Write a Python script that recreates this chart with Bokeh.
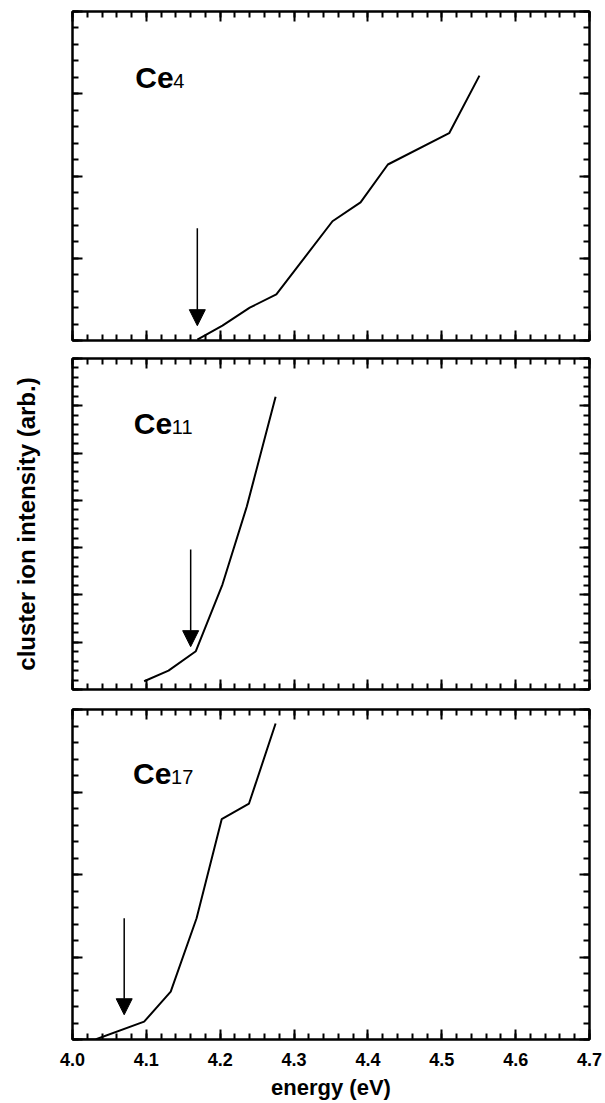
from bokeh.plotting import figure
from bokeh.models import (LinearAxis, SingleIntervalTicker, Range1d, Arrow, NormalHead, Label,
                          NumeralTickFormatter)
from bokeh.layouts import column
from bokeh.embed import file_html
from bokeh.resources import INLINE

# ---- data ----
energy_ce4 = [4.169, 4.203, 4.240, 4.276, 4.352, 4.390, 4.427, 4.510, 4.551]
intensity_ce4 = [0.01, 0.18, 0.40, 0.56, 1.45, 1.68, 2.14, 2.52, 3.22]

energy_ce11 = [4.097, 4.130, 4.167, 4.203, 4.236, 4.275]
intensity_ce11 = [0.175, 0.40, 0.81, 2.22, 3.87, 6.19]

energy_ce17 = [4.000, 4.031, 4.097, 4.133, 4.168, 4.202, 4.239, 4.275]
intensity_ce17 = [0.0, 0.0, 0.216, 0.58, 1.47, 2.67, 2.86, 3.83]

cluster_sizes = ["4", "11", "17"]
y_max = [4, 7, 4]

arrow_energy = [4.169, 4.160, 4.070]
arrow_tail = [1.365, 2.96, 1.47]
arrow_tip = [0.18, 0.906, 0.30]

label_energy = [4.085, 4.083, 4.082]
label_y = [3.20, 5.63, 3.23]

x_tick_step = 0.1
y_tick_step = 1

FONT = "Liberation Sans"


def style_axis(ax, show_labels=False):
    ax.major_tick_in = 10
    ax.major_tick_out = 0
    ax.minor_tick_in = 6
    ax.minor_tick_out = 0
    ax.major_tick_line_width = 2
    ax.minor_tick_line_width = 2
    ax.major_tick_line_color = "black"
    ax.minor_tick_line_color = "black"
    ax.axis_line_width = 2
    ax.axis_line_color = "black"
    if show_labels:
        ax.major_label_text_font = FONT
        ax.major_label_text_font_size = "18px"
        ax.major_label_text_font_style = "bold"
        ax.major_label_text_color = "black"
        ax.major_label_standoff = 13
    else:
        ax.major_label_text_font_size = "0px"
        ax.major_label_text_color = None
        ax.major_label_standoff = 0


def make_panel(xs, ys, idx, frame_h, top, bottom, bottom_labels=False, ylabel=None):
    ymax = y_max[idx]
    p = figure(frame_width=517, frame_height=frame_h,
               min_border_left=72, min_border_right=16,
               min_border_top=top, min_border_bottom=bottom,
               x_range=Range1d(4.0, 4.7), y_range=Range1d(0, ymax),
               x_axis_location=None, y_axis_location=None,
               output_backend="svg", toolbar_location=None,
               background_fill_color=None, border_fill_color="white")
    p.xgrid.visible = False
    p.ygrid.visible = False
    p.outline_line_color = "black"
    p.outline_line_width = 2

    bottom_ax = LinearAxis(ticker=SingleIntervalTicker(interval=x_tick_step, num_minor_ticks=5))
    top_ax = LinearAxis(ticker=SingleIntervalTicker(interval=x_tick_step, num_minor_ticks=5))
    left_ax = LinearAxis(ticker=SingleIntervalTicker(interval=y_tick_step, num_minor_ticks=5))
    right_ax = LinearAxis(ticker=SingleIntervalTicker(interval=y_tick_step, num_minor_ticks=5))
    style_axis(bottom_ax, show_labels=bottom_labels)
    style_axis(top_ax)
    style_axis(left_ax)
    style_axis(right_ax)

    if bottom_labels:
        bottom_ax.formatter = NumeralTickFormatter(format="0.0")
        bottom_ax.axis_label = "energy (eV)"
        bottom_ax.axis_label_text_font = FONT
        bottom_ax.axis_label_text_font_size = "22px"
        bottom_ax.axis_label_text_font_style = "bold"
        bottom_ax.axis_label_text_color = "black"
        bottom_ax.axis_label_standoff = 6
    if ylabel:
        left_ax.axis_label = ylabel
        left_ax.axis_label_text_font = FONT
        left_ax.axis_label_text_font_size = "24px"
        left_ax.axis_label_text_font_style = "bold"
        left_ax.axis_label_text_color = "black"
        left_ax.axis_label_standoff = 33

    p.add_layout(bottom_ax, "below")
    p.add_layout(top_ax, "above")
    p.add_layout(left_ax, "left")
    p.add_layout(right_ax, "right")

    p.line(xs, ys, line_color="black", line_width=2)

    p.add_layout(Arrow(end=NormalHead(size=16, fill_color="black", line_color="black", line_width=1),
                       x_start=arrow_energy[idx], y_start=arrow_tail[idx],
                       x_end=arrow_energy[idx], y_end=arrow_tip[idx],
                       line_color="black", line_width=1.5))

    p.add_layout(Label(x=label_energy[idx], y=label_y[idx], text="Ce",
                       text_font=FONT, text_font_size="30px", text_font_style="bold",
                       text_color="black", text_baseline="alphabetic"))
    p.add_layout(Label(x=label_energy[idx], y=label_y[idx], x_offset=38, y_offset=-4,
                       text=cluster_sizes[idx],
                       text_font=FONT, text_font_size="20px",
                       text_color="black", text_baseline="alphabetic"))
    return p


p1 = make_panel(energy_ce4, intensity_ce4, 0, 329, 11, 9)
p2 = make_panel(energy_ce11, intensity_ce11, 1, 331, 9, 10,
                ylabel="cluster ion intensity (arb.)")
p3 = make_panel(energy_ce17, intensity_ce17, 2, 330, 10, 64, bottom_labels=True)

layout = column(p1, p2, p3, spacing=0)
open("out.html", "w").write(file_html(layout, INLINE))
